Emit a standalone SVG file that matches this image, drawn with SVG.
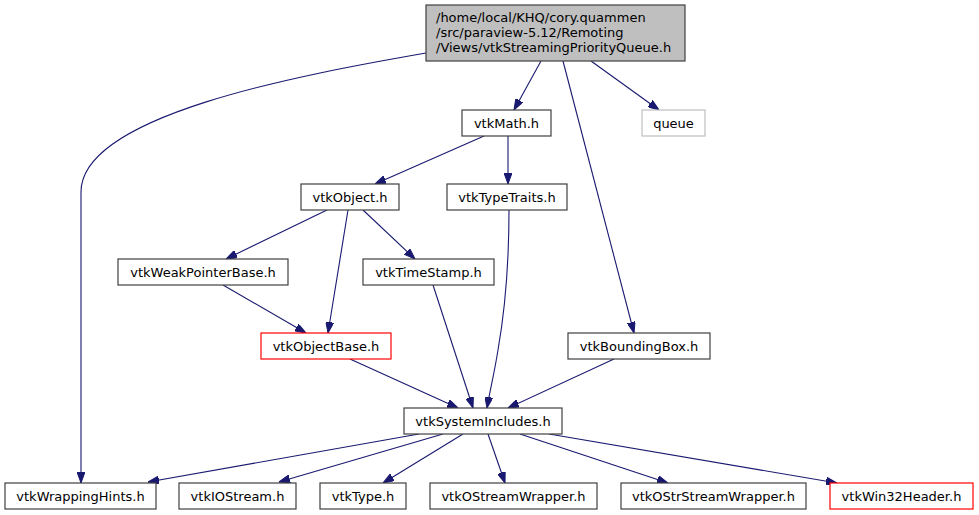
<svg xmlns="http://www.w3.org/2000/svg" width="979" height="515" viewBox="0 0 979 515">
<style>
.n rect{fill:#fff;stroke:#404040;stroke-width:1.2}
.n text{font-family:"DejaVu Sans",sans-serif;font-size:13px;fill:#000;text-anchor:middle}
.r rect{stroke:#ff0000}
.g rect{stroke:#bfbfbf}
.e path{fill:none;stroke:#191970;stroke-width:1.1;marker-end:url(#a)}
</style>
<defs>
<marker id="a" viewBox="0 0 11 8" refX="11" refY="4" markerWidth="11" markerHeight="8" markerUnits="userSpaceOnUse" orient="auto">
<polygon points="0,0 11,4 0,8" fill="#191970" stroke="#191970"/>
</marker>
</defs>
<rect width="979" height="515" fill="#fff"/>
<g class="e" id="edges">
<path d="M541,61 L514,110"/>
<path d="M591,61 L659,110"/>
<path d="M563,61 L634,333"/>
<path d="M426,53 C300,75 81,115 81,192 L81,483"/>
<path d="M484,136 L375,184"/>
<path d="M508,136 L508,184"/>
<path d="M327,210 L226,259"/>
<path d="M348,210 L328,333"/>
<path d="M363,210 L415,259"/>
<path d="M223,285 L306,333"/>
<path d="M433,285 L473,408"/>
<path d="M509,210 C509,260 505,310 498,350 C494,375 490,390 487,408"/>
<path d="M350,359 L458,408"/>
<path d="M614,359 L508,408"/>
<path d="M419,434 L148,482"/>
<path d="M443,434 L279,482"/>
<path d="M463,434 L383,483"/>
<path d="M488,434 L505,483"/>
<path d="M520,434 L668,483"/>
<path d="M549,434 L837,483"/>
</g>
<g class="n" id="root">
<rect x="426" y="5" width="259" height="56" style="fill:#bfbfbf"/>
<text x="436" y="22" style="text-anchor:start">/home/local/KHQ/cory.quammen</text>
<text x="436" y="37" style="text-anchor:start">/src/paraview-5.12/Remoting</text>
<text x="436" y="52" style="text-anchor:start">/Views/vtkStreamingPriorityQueue.h</text>
</g>
<g class="n" id="vtkMath"><rect x="462" y="110" width="89" height="26"/><text x="506.5" y="127.5">vtkMath.h</text></g>
<g class="n g" id="queue"><rect x="642" y="110" width="63" height="26"/><text x="673.5" y="127.5">queue</text></g>
<g class="n" id="vtkObject"><rect x="301" y="184" width="98" height="26"/><text x="350" y="201.5">vtkObject.h</text></g>
<g class="n" id="vtkTypeTraits"><rect x="447" y="184" width="120" height="26"/><text x="507" y="201.5">vtkTypeTraits.h</text></g>
<g class="n" id="vtkWeakPointerBase"><rect x="118" y="259" width="170" height="26"/><text x="203" y="276.5">vtkWeakPointerBase.h</text></g>
<g class="n" id="vtkTimeStamp"><rect x="363" y="259" width="131" height="26"/><text x="428.5" y="276.5">vtkTimeStamp.h</text></g>
<g class="n r" id="vtkObjectBase"><rect x="261" y="333" width="130" height="26"/><text x="326" y="350.5">vtkObjectBase.h</text></g>
<g class="n" id="vtkBoundingBox"><rect x="568" y="333" width="142" height="26"/><text x="639" y="350.5">vtkBoundingBox.h</text></g>
<g class="n" id="vtkSystemIncludes"><rect x="404" y="408" width="158" height="26"/><text x="483" y="425.5">vtkSystemIncludes.h</text></g>
<g class="n" id="vtkWrappingHints"><rect x="5" y="483" width="151" height="26"/><text x="80.5" y="500.5">vtkWrappingHints.h</text></g>
<g class="n" id="vtkIOStream"><rect x="179" y="483" width="117" height="26"/><text x="237.5" y="500.5">vtkIOStream.h</text></g>
<g class="n" id="vtkType"><rect x="320" y="483" width="86" height="26"/><text x="363" y="500.5">vtkType.h</text></g>
<g class="n" id="vtkOStreamWrapper"><rect x="430" y="483" width="167" height="26"/><text x="513.5" y="500.5">vtkOStreamWrapper.h</text></g>
<g class="n" id="vtkOStrStreamWrapper"><rect x="621" y="483" width="185" height="26"/><text x="713.5" y="500.5">vtkOStrStreamWrapper.h</text></g>
<g class="n r" id="vtkWin32Header"><rect x="830" y="483" width="143" height="26"/><text x="901.5" y="500.5">vtkWin32Header.h</text></g>
</svg>
